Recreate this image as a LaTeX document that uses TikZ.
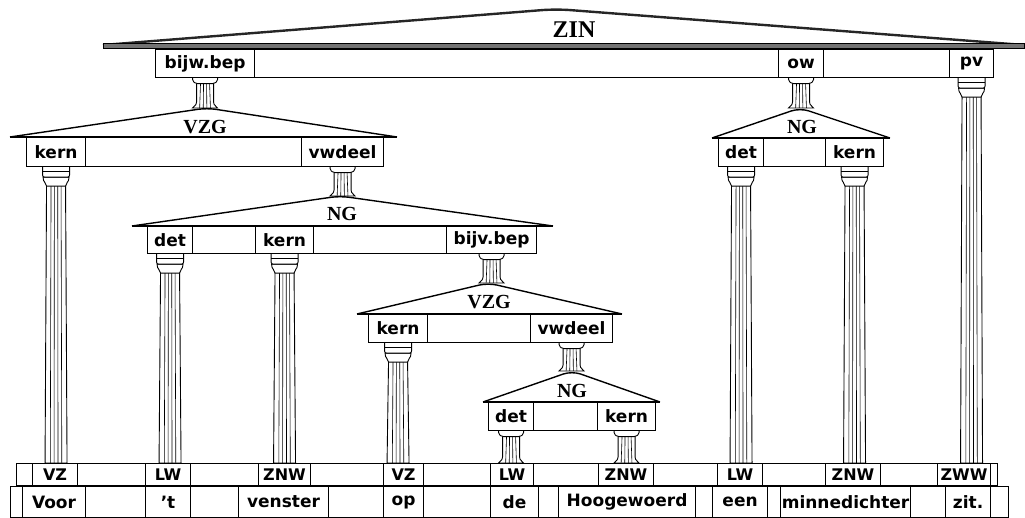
\documentclass[tikz,border=0pt]{standalone}
\usepackage{fontspec}
\setmainfont{Liberation Serif}
\newfontfamily\cellfont{DejaVu Sans}
\usetikzlibrary{calc}

\pgfdeclarelayer{pillars}
\pgfsetlayers{pillars,main}

\tikzset{
  cellbox/.style={draw, line width=1.1pt, rectangle, inner sep=0pt,
    font=\cellfont\bfseries\fontsize{17}{19}\selectfont},
  posbox/.style={cellbox, font=\cellfont\bfseries\fontsize{16}{18}\selectfont},
  rooflabel/.style={inner sep=0pt, font=\bfseries\fontsize{20}{22}\selectfont},
  roofedge/.style={line width=1.4pt, rounded corners=9pt},
  roofbase/.style={line width=2pt},
  pilstroke/.style={line width=0.9pt, fill=white},
  flute/.style={line width=0.6pt},
}

% one table cell: style, name, left x, right x, text (row limits in \rowtop, \rowbot)
\newcommand\tcell[5][cellbox]{%
  \node[#1, minimum width={#4pt-#3pt}, minimum height={\rowbot pt-\rowtop pt},
        anchor=north west] (#2) at (#3,\rowtop) {#5};}

% pediment: name, left x, right x, apex x, apex y, base y
\newcommand\roof[6]{%
  \coordinate (#1-apex) at (#4,#5);
  \draw[roofedge] (#2,#6) -- (#1-apex) -- (#3,#6);
  \draw[roofbase] (#2,#6) -- (#3,#6);}

% height between two named points, kept in \pilh
\newcommand\pilspan[2]{%
  \path let \p1=(#1), \p2=(#2) in
    \pgfextra{\pgfmathsetmacro\pilh{\y1-\y2}\global\let\pilh\pilh}
    coordinate (pil-top) at (#1);}

% tall fluted column with capital
\newcommand\pillar[2]{%
  \pilspan{#1}{#2}%
  \begin{pgfonlayer}{pillars}
  \begin{scope}[shift={(pil-top)}]
    \draw[pilstroke] (-9.5,18) -- (-11,\pilh) -- (11,\pilh) -- (9.5,18) -- cycle;
    \foreach \f in {-5,-1.7,1.7,5} \draw[flute] (\f,18) -- ({\f*1.15},\pilh);
    \draw[pilstroke] (-13,10) .. controls (-13,16) and (-9.5,15) .. (-9.5,19)
      -- (9.5,19) .. controls (9.5,15) and (13,16) .. (13,10) -- cycle;
    \draw[pilstroke, rounded corners=2pt] (-13.5,0) -- (-13.5,10) -- (13.5,10) -- (13.5,0);
    \draw[line width=0.6pt] (-13.5,4) -- (13.5,4);
  \end{scope}
  \end{pgfonlayer}}

% short column joining a slot to the roof below it
\newcommand\stub[2]{%
  \pilspan{#1}{#2}%
  \begin{pgfonlayer}{pillars}
  \begin{scope}[shift={(pil-top)}]
    \draw[pilstroke] (-8.5,4) -- (-8.5,\pilh-6)
      .. controls (-8.5,\pilh-2) and (-12,\pilh-2) .. (-12.5,\pilh)
      -- (12.5,\pilh) .. controls (12,\pilh-2) and (8.5,\pilh-2) .. (8.5,\pilh-6)
      -- (8.5,4) -- cycle;
    \foreach \f in {-4.5,-1.5,1.5,4.5} \draw[flute] (\f,5) -- ({\f*1.2},\pilh);
    \draw[pilstroke, rounded corners=1.5pt] (-12.5,0) -- (-12.5,3) -- (-9,5.5)
      -- (9,5.5) -- (12.5,3) -- (12.5,0);
  \end{scope}
  \end{pgfonlayer}}

\begin{document}
\begin{tikzpicture}[x=1pt, y=-1pt]
\useasboundingbox (0,0) rectangle (1025,518);

% ---------- ZIN ----------
\coordinate (zin-apex) at (556,9);
\draw[line width=2.4pt, black!85, rounded corners=14pt] (103,45) -- (zin-apex) -- (1024,45);
\draw[line width=0.6pt, fill=black!55] (103,43) rectangle (1024,48);
\node[rooflabel, font=\bfseries\fontsize{24}{26}\selectfont] (zin) at (574,30) {ZIN};
\def\rowtop{49}\def\rowbot{77}
\tcell{zin-bijw}{155}{254}{bijw.bep}
\tcell{zin-e1}{254}{778}{}
\tcell{zin-ow}{778}{823}{ow}
\tcell{zin-e2}{823}{949}{}
\tcell{zin-pv}{949}{993}{pv}

% ---------- VZG (left) ----------
\roof{vzg1}{10}{397}{207}{108}{137}
\node[rooflabel] (vzg1) at (205,127) {VZG};
\def\rowtop{137}\def\rowbot{166}
\tcell{vzg1-kern}{26}{85}{kern}
\tcell{vzg1-e}{85}{301}{}
\tcell{vzg1-vw}{301}{383}{vwdeel}

% ---------- NG (middle) ----------
\roof{ng1}{132}{553}{340}{196}{226}
\node[rooflabel] (ng1) at (342,214) {NG};
\def\rowtop{226}\def\rowbot{253}
\tcell{ng1-det}{147}{192}{det}
\tcell{ng1-e1}{192}{255}{}
\tcell{ng1-kern}{255}{313}{kern}
\tcell{ng1-e2}{313}{446}{}
\tcell{ng1-bijv}{446}{536}{bijv.bep}

% ---------- VZG (lower) ----------
\roof{vzg2}{357}{622}{488}{283}{314}
\node[rooflabel] (vzg2) at (489,302) {VZG};
\def\rowtop{314}\def\rowbot{342}
\tcell{vzg2-kern}{368}{427}{kern}
\tcell{vzg2-e}{427}{530}{}
\tcell{vzg2-vw}{530}{612}{vwdeel}

% ---------- NG (lowest) ----------
\roof{ng2}{483}{660}{572}{371}{402}
\node[rooflabel] (ng2) at (572,391) {NG};
\def\rowtop{402}\def\rowbot{430}
\tcell{ng2-det}{488}{533}{det}
\tcell{ng2-e}{533}{597}{}
\tcell{ng2-kern}{597}{655}{kern}

% ---------- NG (right) ----------
\roof{ng3}{712}{890}{800}{108}{138}
\node[rooflabel] (ng3) at (802,127) {NG};
\def\rowtop{138}\def\rowbot{166}
\tcell{ng3-det}{718}{763}{det}
\tcell{ng3-e}{763}{825}{}
\tcell{ng3-kern}{825}{883}{kern}

% ---------- word classes ----------
\def\rowtop{463}\def\rowbot{485}
\tcell[posbox]{pos-e0}{16}{32}{}
\tcell[posbox]{pos-vz1}{32}{77}{VZ}
\tcell[posbox]{pos-e1}{77}{145}{}
\tcell[posbox]{pos-lw1}{145}{190}{LW}
\tcell[posbox]{pos-e2}{190}{258}{}
\tcell[posbox]{pos-znw1}{258}{310}{ZNW}
\tcell[posbox]{pos-e3}{310}{383}{}
\tcell[posbox]{pos-vz2}{383}{423}{VZ}
\tcell[posbox]{pos-e4}{423}{490}{}
\tcell[posbox]{pos-lw2}{490}{533}{LW}
\tcell[posbox]{pos-e5}{533}{598}{}
\tcell[posbox]{pos-znw2}{598}{653}{ZNW}
\tcell[posbox]{pos-e6}{653}{717}{}
\tcell[posbox]{pos-lw3}{717}{762}{LW}
\tcell[posbox]{pos-e7}{762}{825}{}
\tcell[posbox]{pos-znw3}{825}{880}{ZNW}
\tcell[posbox]{pos-e8}{880}{937}{}
\tcell[posbox]{pos-zww}{937}{990}{ZWW}
\tcell[posbox]{pos-e9}{990}{997}{}

% ---------- words ----------
\def\rowtop{486}\def\rowbot{517}
\tcell{w-e0}{10}{22}{}
\tcell{w-voor}{22}{85}{Voor}
\tcell{w-e1}{85}{145}{}
\tcell{w-t}{145}{190}{’t}
\tcell{w-e2}{190}{238}{}
\tcell{w-venster}{238}{328}{venster}
\tcell{w-e3}{328}{383}{}
\tcell{w-op}{383}{423}{op}
\tcell{w-e4}{423}{490}{}
\tcell{w-de}{490}{538}{de}
\tcell{w-e5}{538}{558}{}
\tcell{w-hoog}{558}{695}{Hoogewoerd}
\tcell{w-e6}{695}{712}{}
\tcell{w-een}{712}{767}{een}
\tcell{w-e7}{767}{780}{}
\tcell{w-minne}{780}{910}{minnedichter}
\tcell{w-e8}{910}{945}{}
\tcell{w-zit}{945}{990}{zit.}
\tcell{w-e9}{990}{1008}{}

% ---------- columns ----------
\stub{zin-bijw.south}{vzg1-apex}
\stub{zin-ow.south}{ng3-apex}
\pillar{zin-pv.south}{pos-zww.north}
\pillar{vzg1-kern.south}{pos-vz1.north}
\stub{vzg1-vw.south}{ng1-apex}
\pillar{ng1-det.south}{pos-lw1.north}
\pillar{ng1-kern.south}{pos-znw1.north}
\stub{ng1-bijv.south}{vzg2-apex}
\pillar{vzg2-kern.south}{pos-vz2.north}
\stub{vzg2-vw.south}{ng2-apex}
\stub{ng2-det.south}{pos-lw2.north}
\stub{ng2-kern.south}{pos-znw2.north}
\pillar{ng3-det.south}{pos-lw3.north}
\pillar{ng3-kern.south}{pos-znw3.north}
\end{tikzpicture}
\end{document}
